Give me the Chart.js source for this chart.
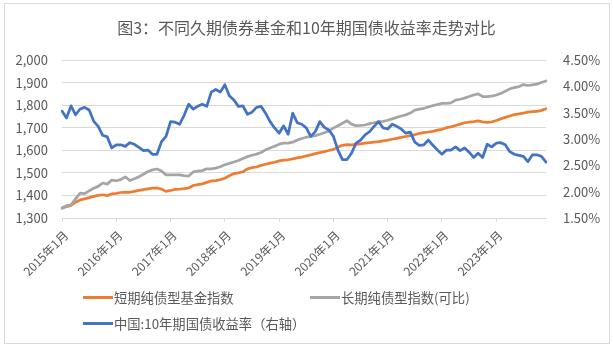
<!DOCTYPE html>
<html>
<head>
<meta charset="utf-8">
<script src="https://cdn.jsdelivr.net/npm/chart.js@4.4.1/dist/chart.umd.min.js"></script>
<style>
    body { margin: 0; background: #fff; }
    #wrap { position: relative; width: 613px; height: 346px; }
    #frame { position: absolute; left: 4px; top: 3px; width: 604px; height: 339px; border: 1px solid #d9d9d9; pointer-events: none; }
    #legend { position: absolute; left: 83px; top: 284px; width: 460px; display: flex; flex-wrap: wrap;
              font: 13.3px 'Noto Sans CJK SC', sans-serif; color: #595959; }
    #legend .item { width: 227px; height: 26px; display: flex; align-items: center; }
    #legend .line { width: 30px; height: 3px; margin-right: 1px; }
</style>
</head>
<body>
<div id="wrap">
    <canvas id="trend-chart" width="613" height="346"></canvas>
    <div id="legend"></div>
    <div id="frame"></div>
</div>
<script>
var years = ['2015', '2016', '2017', '2018', '2019', '2020', '2021', '2022', '2023'];

// 短期纯债型基金指数 (left axis), monthly 2015-01 .. 2023-12
var shortBond = [1344, 1350, 1356, 1370, 1380, 1385, 1390, 1396, 1400, 1403, 1399, 1407,
    1409, 1413, 1415, 1414, 1418, 1422, 1426, 1429, 1432, 1433, 1428, 1418,
    1422, 1427, 1428, 1430, 1433, 1444, 1448, 1451, 1458, 1464, 1466, 1470,
    1476, 1487, 1497, 1500, 1505, 1518, 1523, 1526, 1533, 1538, 1543, 1547,
    1553, 1556, 1558, 1562, 1566, 1570, 1575, 1580, 1585, 1590, 1594, 1599,
    1604, 1614, 1622, 1625, 1624, 1626, 1628, 1632, 1634, 1636, 1638, 1642,
    1645, 1649, 1653, 1657, 1661, 1665, 1669, 1675, 1678, 1681, 1684, 1689,
    1693, 1700, 1704, 1710, 1716, 1722, 1725, 1727, 1730, 1726, 1724, 1726,
    1732, 1739, 1746, 1752, 1758, 1761, 1765, 1769, 1771, 1772, 1777, 1784];

// 长期纯债型指数(可比) (left axis)
var longBond = [1344, 1355, 1358, 1385, 1410, 1408, 1420, 1432, 1440, 1455, 1450, 1468,
    1465, 1470, 1482, 1466, 1474, 1483, 1494, 1506, 1513, 1517, 1508, 1491,
    1491, 1491, 1491, 1488, 1486, 1504, 1508, 1510, 1518, 1518, 1521, 1527,
    1536, 1542, 1548, 1555, 1564, 1572, 1578, 1583, 1590, 1602, 1610, 1618,
    1627, 1632, 1632, 1636, 1645, 1652, 1658, 1661, 1665, 1671, 1678, 1686,
    1698, 1709, 1720, 1731, 1716, 1709, 1710, 1712, 1718, 1722, 1727, 1728,
    1733, 1739, 1746, 1752, 1757, 1765, 1778, 1782, 1786, 1792, 1798, 1803,
    1808, 1808, 1810, 1822, 1826, 1831, 1838, 1845, 1850, 1838, 1838, 1840,
    1845, 1852, 1862, 1872, 1878, 1882, 1891, 1887, 1890, 1893, 1900, 1907];

// 中国:10年期国债收益率 (right axis, %)
var cgb10y = [3.53, 3.40, 3.63, 3.46, 3.57, 3.60, 3.55, 3.34, 3.24, 3.07, 3.04, 2.83,
    2.89, 2.89, 2.86, 2.93, 2.90, 2.84, 2.78, 2.79, 2.71, 2.71, 2.95, 3.05,
    3.33, 3.32, 3.28, 3.45, 3.66, 3.57, 3.62, 3.66, 3.62, 3.89, 3.94, 3.89,
    4.03, 3.82, 3.74, 3.62, 3.63, 3.47, 3.51, 3.60, 3.62, 3.49, 3.33, 3.21,
    3.11, 3.25, 3.09, 3.49, 3.31, 3.28, 3.21, 3.05, 3.14, 3.33, 3.22, 3.17,
    3.05, 2.79, 2.61, 2.61, 2.73, 2.92, 2.98, 3.08, 3.14, 3.24, 3.33, 3.21,
    3.19, 3.28, 3.24, 3.19, 3.11, 3.13, 2.94, 2.88, 2.89, 2.98, 2.88, 2.79,
    2.71, 2.79, 2.79, 2.85, 2.78, 2.83, 2.75, 2.65, 2.73, 2.65, 2.90, 2.85,
    2.92, 2.93, 2.89, 2.76, 2.71, 2.69, 2.67, 2.57, 2.70, 2.70, 2.67, 2.56];

var leftTicks = [1300, 2000, 100];
var rightTicks = [1.5, 4.5, 0.5];

var labels = [];
years.forEach(function (y) {
    for (var m = 1; m <= 12; m++) {
        labels.push(y + '年' + m + '月');
    }
});

var textColor = '#595959';
var gridColor = '#d9d9d9';
var fontFamily = "'Noto Sans CJK SC', 'Liberation Sans', sans-serif";

var chart = new Chart(document.getElementById('trend-chart'), {
    type: 'line',
    data: {
        labels: labels,
        datasets: [
            {label: '短期纯债型基金指数', data: shortBond, yAxisID: 'y', borderColor: '#ED7D31', order: 3},
            {label: '长期纯债型指数(可比)', data: longBond, yAxisID: 'y', borderColor: '#A5A5A5', order: 2},
            {label: '中国:10年期国债收益率（右轴）', data: cgb10y, yAxisID: 'y1', borderColor: '#4472C4', order: 1}
        ]
    },
    options: {
        responsive: false,
        animation: false,
        devicePixelRatio: 1,
        layout: {padding: {left: 0, right: 0, top: 0, bottom: 58}},
        elements: {
            point: {radius: 0},
            line: {borderWidth: 2.75, tension: 0, fill: false, borderCapStyle: 'round', borderJoinStyle: 'round'}
        },
        plugins: {
            legend: {display: false},
            tooltip: {enabled: false},
            title: {
                display: true,
                text: '图3：不同久期债券基金和10年期国债收益率走势对比',
                color: textColor,
                font: {family: fontFamily, size: 16, weight: 'normal'},
                padding: {top: 18.4, bottom: 22.4}
            }
        },
        scales: {
            x: {
                type: 'category',
                grid: {display: true, drawOnChartArea: false, drawTicks: true, tickLength: 4, color: gridColor},
                border: {display: true, color: gridColor},
                ticks: {
                    autoSkip: false,
                    minRotation: 45,
                    maxRotation: 45,
                    padding: 6,
                    labelOffset: 4,
                    color: textColor,
                    font: {family: fontFamily, size: 12},
                    callback: function (val, i) {
                        return i % 12 === 0 ? labels[i] : null;
                    }
                },
                afterFit: function (scale) { scale.height = 70; }
            },
            y: {
                position: 'left',
                min: leftTicks[0],
                max: leftTicks[1],
                grid: {color: gridColor, drawTicks: false},
                border: {display: false},
                ticks: {
                    stepSize: leftTicks[2],
                    padding: 14,
                    color: textColor,
                    font: {family: fontFamily, size: 13},
                    callback: function (v) { return v.toLocaleString('en-US'); }
                },
                afterFit: function (scale) { scale.width = 62; }
            },
            y1: {
                position: 'right',
                min: rightTicks[0],
                max: rightTicks[1],
                grid: {display: false, drawTicks: false},
                border: {display: false},
                ticks: {
                    stepSize: rightTicks[2],
                    padding: 17,
                    color: textColor,
                    font: {family: fontFamily, size: 13},
                    callback: function (v) { return v.toFixed(2) + '%'; }
                },
                afterFit: function (scale) { scale.width = 67; }
            }
        }
    }
});

// legend in html, laid out like the excel one (two columns)
var legendBox = document.getElementById('legend');
chart.data.datasets.forEach(function (ds) {
    var item = document.createElement('div');
    item.className = 'item';
    var line = document.createElement('span');
    line.className = 'line';
    line.style.background = ds.borderColor;
    var txt = document.createElement('span');
    txt.textContent = ds.label;
    item.appendChild(line);
    item.appendChild(txt);
    legendBox.appendChild(item);
});
</script>
</body>
</html>
